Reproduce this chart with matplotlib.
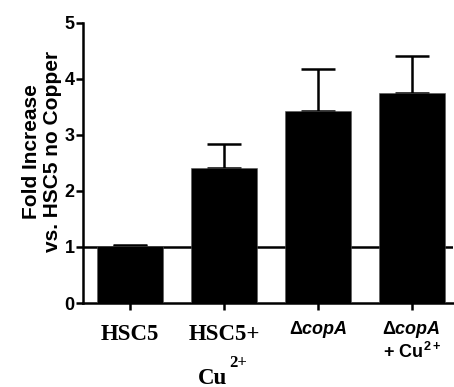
import matplotlib
matplotlib.use("Agg")
import matplotlib.pyplot as plt
from matplotlib.transforms import blended_transform_factory

plt.rcParams["mathtext.fontset"] = "custom"
plt.rcParams["mathtext.rm"] = "Liberation Sans:bold"
plt.rcParams["mathtext.it"] = "Liberation Sans:italic:bold"
plt.rcParams["mathtext.bf"] = "Liberation Sans:bold"

groups = ["HSC5", "HSC5+Cu", "dcopA", "dcopA+Cu"]
fold_increase = [1.01, 2.41, 3.43, 3.75]
error_upper = [0.03, 0.42, 0.75, 0.65]

LW = 1.8  # points

fig = plt.figure(figsize=(4.54, 3.87), dpi=100)
ax = fig.add_axes([0.183, 0.217, 0.815, 0.724])

x = list(range(len(groups)))
ax.bar(x, fold_increase, width=0.7, color="black", edgecolor="#555555",
       linewidth=0.4, zorder=3)
ax.errorbar(x, fold_increase, yerr=[[0] * len(x), error_upper], fmt="none",
            ecolor="black", elinewidth=LW, capsize=12, capthick=LW, zorder=2)
ax.axhline(1, color="black", linewidth=LW, zorder=1)

ax.set_xlim(-0.5, 3.44)
ax.set_ylim(0, 5)
ax.set_yticks([0, 1, 2, 3, 4, 5])
ax.set_xticks(x)
ax.set_xticklabels([])
for s in ["top", "right"]:
    ax.spines[s].set_visible(False)
for s in ["left", "bottom"]:
    ax.spines[s].set_linewidth(LW)
ax.tick_params(axis="both", length=5, width=LW, direction="out")
ax.tick_params(axis="y", pad=1)
for lab in ax.get_yticklabels():
    lab.set_fontfamily("Liberation Sans")
    lab.set_fontweight("bold")
    lab.set_fontsize(13)

ax.set_ylabel("Fold Increase\nvs. HSC5 no Copper", family="Liberation Sans",
              fontweight="bold", fontsize=15, linespacing=1.12)
ax.yaxis.set_label_coords(-0.058, 0.54)

trans = blended_transform_factory(ax.transData, fig.transFigure)
serif = dict(family="Liberation Serif", fontweight="bold", ha="center", va="center")
ax.text(0, 1 - 335 / 387, "HSC5", transform=trans, fontsize=16.5, **serif)
ax.text(1, 1 - 335 / 387, "HSC5+", transform=trans, fontsize=16.5, **serif)
ax.text(0.88, 1 - 378 / 387, "Cu", transform=trans, fontsize=16.5, **serif)
ax.text(1.15, 1 - 363 / 387, "2+", transform=trans, fontsize=12, **serif)

sans = dict(ha="center", va="center", fontsize=13)
ax.text(2, 1 - 329 / 387, r"$\Delta\mathit{copA}$", transform=trans, **sans)
ax.text(3, 1 - 329 / 387, r"$\Delta\mathit{copA}$", transform=trans, **sans)
ax.text(3, 1 - 352 / 387, r"$\mathrm{+\ Cu}^{\mathrm{2+}}$", transform=trans, **sans)

fig.savefig("out.png", dpi=100)
